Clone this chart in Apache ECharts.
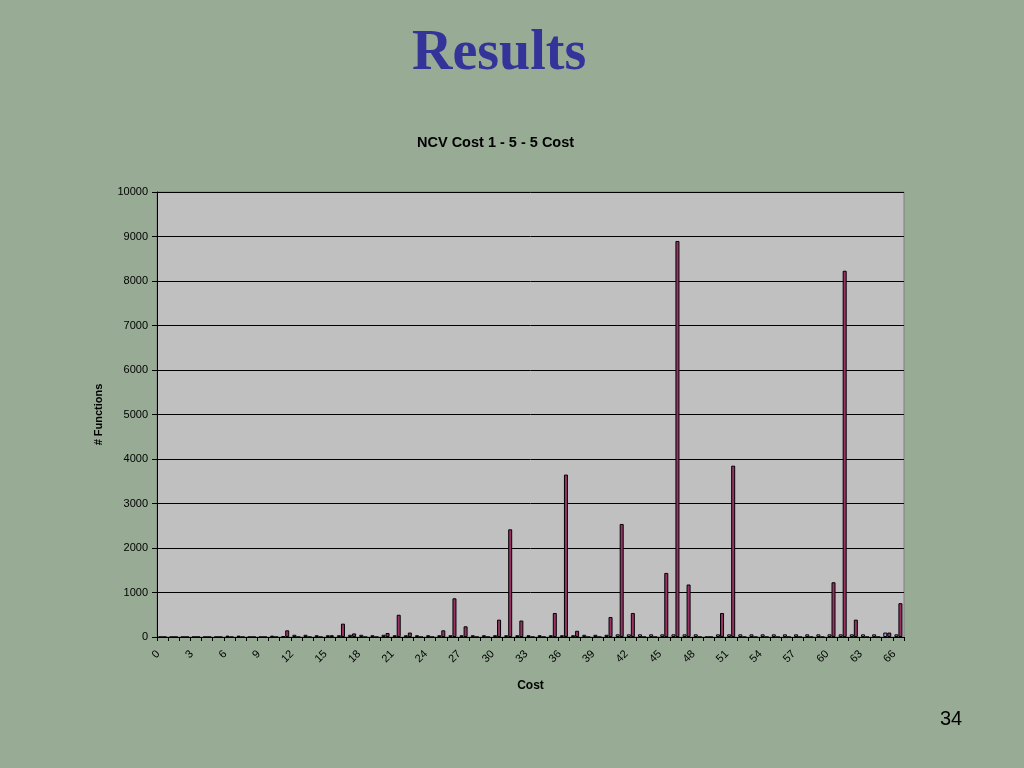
<!DOCTYPE html>
<html>
<head>
<meta charset="utf-8">
<script src="https://cdn.jsdelivr.net/npm/echarts@6/dist/echarts.min.js"></script>
<style>
html,body{margin:0;padding:0;background:#97ab95;}
#chart{width:1024px;height:768px;}
</style>
</head>
<body>
<div id="chart"></div>
<script>
// Categories: cost 0..66
const categories = ["0","1","2","3","4","5","6","7","8","9","10","11","12","13","14","15","16","17","18","19","20","21","22","23","24","25","26","27","28","29","30","31","32","33","34","35","36","37","38","39","40","41","42","43","44","45","46","47","48","49","50","51","52","53","54","55","56","57","58","59","60","61","62","63","64","65","66"];
// Series 1 (small values, periwinkle)
const seriesA = [0,0,0,0,0,0,30,30,0,0,30,20,50,50,40,40,40,50,50,40,50,40,40,40,40,40,40,40,40,40,40,40,40,40,40,40,40,40,50,50,50,60,60,60,60,60,60,60,60,0,60,60,60,60,60,60,60,60,60,60,60,60,60,60,60,100,60];
// Series 2 (# functions, plum)
const seriesB = [0,0,0,0,0,0,0,0,0,0,0,150,0,0,0,40,300,80,0,0,90,500,100,0,0,150,870,240,0,0,390,2420,370,0,0,540,3650,140,0,0,450,2540,540,0,0,1440,8900,1180,0,0,540,3850,0,0,0,0,0,0,0,0,1230,8230,390,0,0,100,760];
const yTicks = [0,1000,2000,3000,4000,5000,6000,7000,8000,9000,10000];

const chart = echarts.init(document.getElementById('chart'));
chart.setOption({
  backgroundColor: '#97ab95',
  animation: false,
  title: [
    {text: 'Results', left: 412, top: 27, padding: 0,
     textStyle: {fontFamily: 'Liberation Serif', fontWeight: 'bold', fontSize: 56, color: '#333399'}},
    {text: 'NCV Cost 1 - 5 - 5 Cost', left: 417, top: 135, padding: 0,
     textStyle: {fontFamily: 'Liberation Sans', fontWeight: 'bold', fontSize: 14.5, color: '#000'}},
    {text: '34', left: 940, top: 709, padding: 0,
     textStyle: {fontFamily: 'Liberation Sans', fontWeight: 'normal', fontSize: 20, color: '#000'}}
  ],
  grid: {left: 157, right: 120, top: 192, bottom: 131, show: true,
         backgroundColor: '#C0C0C0', borderColor: '#808080', borderWidth: 1},
  xAxis: {
    type: 'category', data: categories,
    name: 'Cost', nameLocation: 'middle', nameGap: 43,
    nameTextStyle: {fontFamily: 'Liberation Sans', fontWeight: 'bold', fontSize: 12, color: '#000'},
    axisLine: {lineStyle: {color: '#000', width: 1}},
    axisTick: {show: true, interval: 0, length: 4, lineStyle: {color: '#000'}},
    axisLabel: {interval: 2, rotate: 45, fontFamily: 'Liberation Sans', fontSize: 11, color: '#000', margin: 11,
                formatter: function (v) { return v + '  '; }}
  },
  yAxis: {
    type: 'value', min: yTicks[0], max: yTicks[yTicks.length - 1], interval: 1000,
    name: '# Functions', nameLocation: 'middle', nameGap: 53,
    nameTextStyle: {fontFamily: 'Liberation Sans', fontWeight: 'bold', fontSize: 11, color: '#000'},
    axisLine: {show: true, lineStyle: {color: '#000', width: 1}},
    axisTick: {show: true, length: 5, lineStyle: {color: '#000'}},
    axisLabel: {fontFamily: 'Liberation Sans', fontSize: 11, color: '#000', margin: 9,
                formatter: function (v) { return String(v); }},
    splitLine: {show: true, lineStyle: {color: '#000', width: 1}}
  },
  series: [
    {type: 'bar', data: seriesA, barWidth: 4, barGap: '0%',
     itemStyle: {color: '#9999FF', borderColor: '#000', borderWidth: 1}},
    {type: 'bar', data: seriesB, barWidth: 4, barGap: '0%',
     itemStyle: {color: '#993366', borderColor: '#000', borderWidth: 1}}
  ]
});
</script>
</body>
</html>
